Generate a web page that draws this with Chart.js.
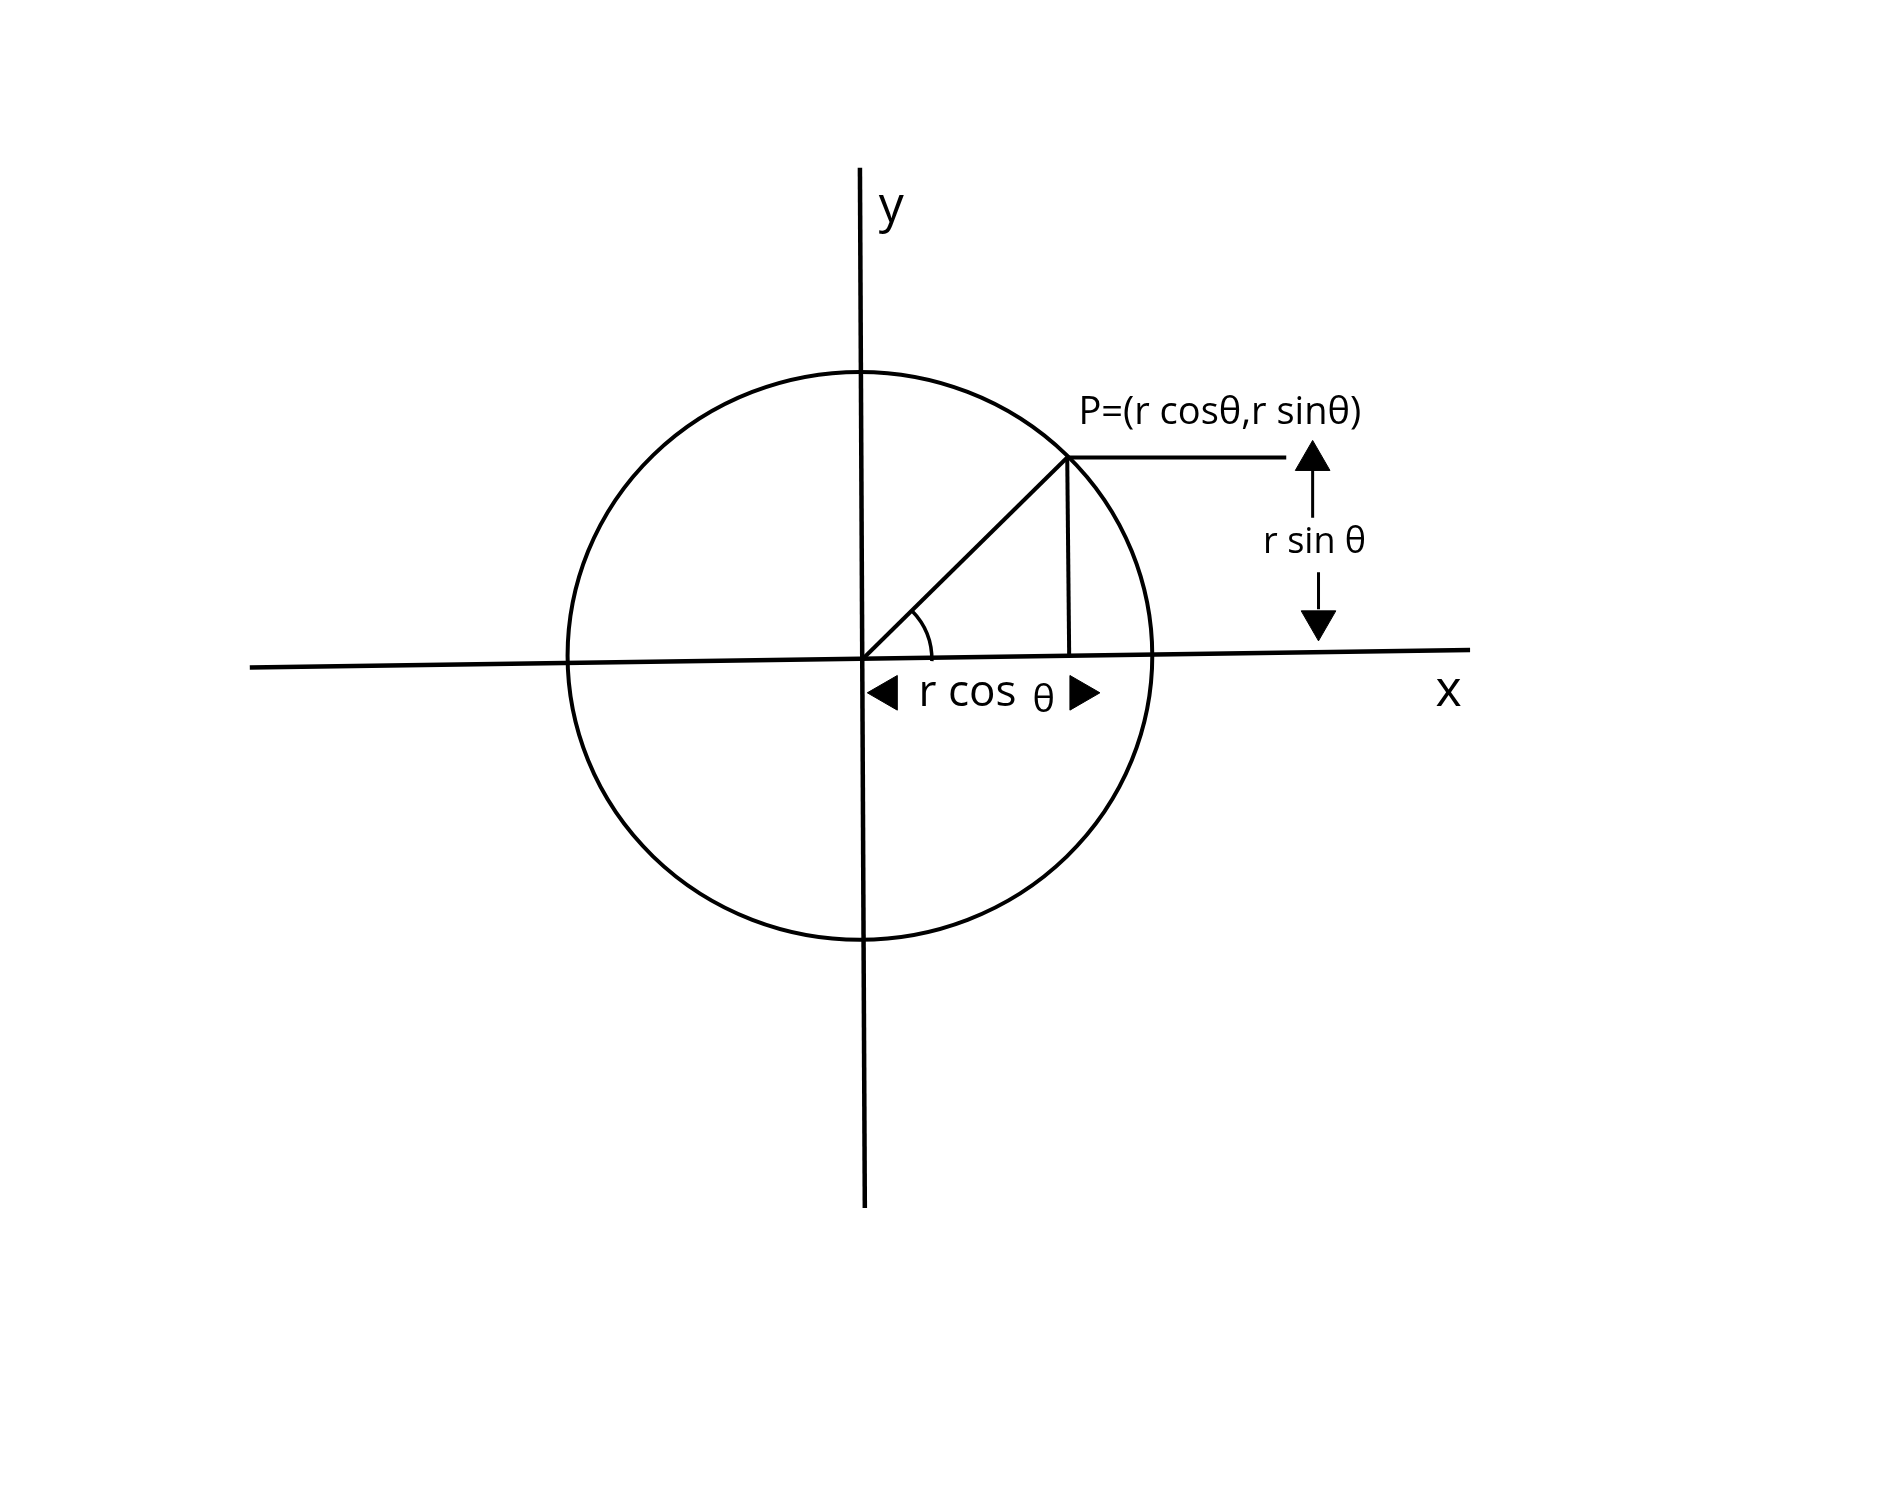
<!DOCTYPE html>
<html>
<head>
<meta charset="utf-8">
<script src="https://cdn.jsdelivr.net/npm/chart.js"></script>
<style>
  html,body{margin:0;padding:0;background:#fff;}
  #wrap{width:1890px;height:1512px;}
</style>
</head>
<body>
<div id="wrap"><canvas id="c" width="1890" height="1512"></canvas></div>
<script>
// Coordenadas del diagrama (unidades = píxeles de la imagen, y hacia abajo)
const yAxisLine   = [{x:858,y:151},{x:863,y:1221}];
const xAxisLine   = [{x:234,y:665},{x:1482,y:647}];
const radiusLine  = [{x:860,y:657},{x:1070,y:449}];
const dropLine    = [{x:1070,y:449},{x:1072,y:652}];
const levelLine   = [{x:1070,y:449},{x:1294,y:449}];
const upStem      = [{x:1321,y:462},{x:1321,y:511}];
const downStem    = [{x:1327,y:567},{x:1327,y:605}];
const upHead      = [{x:1321,y:452}];
const downHead    = [{x:1327,y:617}];
const leftHead    = [{x:886,y:691}];
const rightHead   = [{x:1083,y:691}];

const circle = {cx:858, cy:653, rx:299, ry:292};
const angleArc = {r:70, from:-0.78, to:0.02};

const labels = [
  {text:'y', x:890, y:192, size:50},
  {text:'x', x:1460, y:690, size:50},
  {text:'P=(r cos\u03B8,r sin\u03B8)', x:1226, y:403, size:38},
  {text:'r sin \u03B8', x:1323, y:537, size:36},
  {text:'r cos', x:968, y:692, size:44},
  {text:'\u03B8', x:1046, y:700, size:38}
];

const lineDs = (data, w) => ({data, showLine:true, borderColor:'#000', borderWidth:w, pointRadius:0, fill:false, tension:0});
const headDs = (data, rot, r) => ({data, showLine:false, pointStyle:'triangle', rotation:rot, pointRadius:r,
  backgroundColor:'#000', borderColor:'#000', borderWidth:1});

const drawExtras = {
  id:'drawExtras',
  afterDatasetsDraw(chart){
    const {ctx, scales:{x, y}} = chart;
    ctx.save();
    ctx.strokeStyle = '#000';
    ctx.lineWidth = 4;
    // circunferencia
    const cx = x.getPixelForValue(circle.cx), cy = y.getPixelForValue(circle.cy);
    const rx = x.getPixelForValue(circle.cx + circle.rx) - cx;
    const ry = y.getPixelForValue(circle.cy + circle.ry) - cy;
    ctx.beginPath();
    ctx.ellipse(cx, cy, Math.abs(rx), Math.abs(ry), 0, 0, Math.PI*2);
    ctx.stroke();
    // arco del ángulo
    const ox = x.getPixelForValue(radiusLine[0].x), oy = y.getPixelForValue(radiusLine[0].y);
    ctx.lineWidth = 3.5;
    ctx.beginPath();
    ctx.arc(ox, oy, angleArc.r, angleArc.from, angleArc.to);
    ctx.stroke();
    // textos
    ctx.fillStyle = '#000';
    ctx.textAlign = 'center';
    ctx.textBaseline = 'middle';
    labels.forEach(l => {
      ctx.font = l.size + 'px "Open Sans", "Liberation Sans", sans-serif';
      ctx.fillText(l.text, x.getPixelForValue(l.x), y.getPixelForValue(l.y));
    });
    ctx.restore();
  }
};

new Chart(document.getElementById('c'), {
  type:'scatter',
  data:{datasets:[
    lineDs(yAxisLine, 4.5),
    lineDs(xAxisLine, 4.5),
    lineDs(radiusLine, 4),
    lineDs(dropLine, 4),
    lineDs(levelLine, 4),
    lineDs(upStem, 3),
    lineDs(downStem, 3),
    headDs(upHead, 0, 20),
    headDs(downHead, 180, 20),
    headDs(leftHead, 270, 20),
    headDs(rightHead, 90, 20)
  ]},
  options:{
    responsive:false,
    animation:false,
    devicePixelRatio:1,
    layout:{padding:0},
    plugins:{legend:{display:false}, tooltip:{enabled:false}},
    scales:{
      x:{type:'linear', min:0, max:1890, display:false},
      y:{type:'linear', min:0, max:1512, reverse:true, display:false}
    }
  },
  plugins:[drawExtras]
});
</script>
</body>
</html>
